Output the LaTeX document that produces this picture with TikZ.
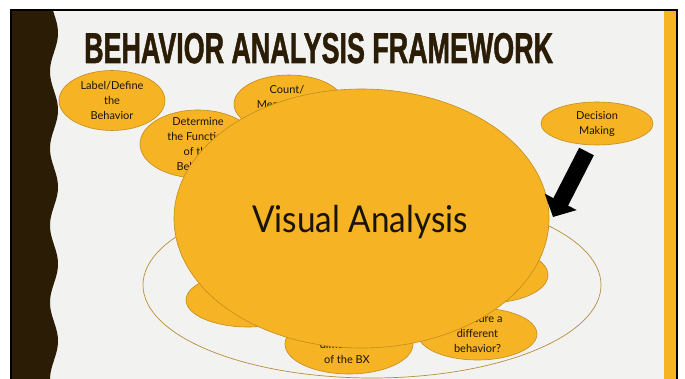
\documentclass[tikz,border=0pt]{standalone}
\usepackage{graphicx}
\usepackage{fontspec}
\setmainfont{Lato}
\newfontfamily\titlefont[FakeBold=1.6]{Liberation Sans Bold}
\usetikzlibrary{shapes.geometric,arrows.meta}

\definecolor{slidebg}{RGB}{242,242,240}
\definecolor{darkband}{RGB}{43,29,5}
\definecolor{bubfill}{RGB}{246,179,35}
\definecolor{bubline}{RGB}{196,140,32}
\definecolor{ringline}{RGB}{185,140,60}
\definecolor{txt}{RGB}{25,20,10}

\begin{document}
\begin{tikzpicture}[x=1pt,y=-1pt,
  bub/.style={ellipse, draw=bubline, fill=bubfill, line width=0.6pt, inner sep=0pt},
  bubtext/.style={font=\fontsize{11}{15}\selectfont, align=center, text=txt, inner sep=0pt},
  ring/.style={ellipse, draw=ringline, line width=0.7pt, inner sep=0pt},
  bigarrow/.style={line width=16.5pt, draw=black, -{Triangle[length=17pt,width=35pt]}}
]
\useasboundingbox (0,0) rectangle (685,379);
\fill[white] (0,0) rectangle (685,379);

% slide background, side bar and wavy band
\fill[slidebg] (11,10) rectangle (676.5,379);
\fill[bubfill] (664,10) rectangle (675.5,379);
\fill[darkband] (11,10) -- plot[domain=10:379, samples=150, smooth]
  ({54+4*sin(4.6753*(\x-13.75))}, \x) -- (11,379) -- cycle;
\draw[black, line width=2pt] (11,379) -- (11,10) -- (676.5,10) -- (676.5,379);

% title
\node[anchor=base west, inner sep=0pt, text=darkband,
      font=\titlefont\fontsize{43}{43}\selectfont] (title) at (84,63)
  {\scalebox{0.625}[1]{BEHAVIOR ANALYSIS FRAMEWORK}};

% outer ring
\node[ring, minimum width=458pt, minimum height=186pt] (ringe) at (372,285) {};

% surrounding steps
\node[bub, minimum width=106pt, minimum height=60pt] (lab) at (112,100.5) {};
\node[bubtext] at (lab) {Label/Define\\the\\Behavior};

\node[bub, minimum width=116pt, minimum height=68pt] (det) at (198,144) {};
\node[bubtext] at (det) {Determine\\the Function\\of the\\Behavior};

\node[bub, minimum width=110pt, minimum height=58pt] (cnt) at (289,104) {};
\node[bubtext] at (287,104) {Count/\\Measure the\\Behavior};

\node[bub, minimum width=112pt, minimum height=43pt] (dec) at (597,123.5) {};
\node[bubtext] at (dec) {Decision\\Making};

\node[bub, minimum width=124pt, minimum height=54pt] (bl) at (248,300) {};
\node[bub, minimum width=120pt, minimum height=56pt] (rm) at (488,275) {};

\node[bub, minimum width=128pt, minimum height=60pt] (bm) at (349,344) {};
\node[bubtext] at (347,344) {Graph the\\dimensions\\of the BX};

\node[bub, minimum width=119pt, minimum height=52pt] (br) at (477.5,334) {};
\node[bubtext] at (br) {Measure a\\different\\behavior?};

% central step
\node[bub, minimum width=375pt, minimum height=259pt] (va) at (361.5,218.5) {};
\node[anchor=base, inner sep=0pt, text=txt, font=\fontsize{37}{40}\selectfont]
  at (360,233) {\scalebox{0.9}[1]{Visual Analysis}};

% arrow from decision making towards the centre
\coordinate (arrtail) at (586.5,151.5);
\coordinate (arrtip) at (553,217);
\draw[bigarrow] (arrtail) -- (arrtip);
\end{tikzpicture}
\end{document}
